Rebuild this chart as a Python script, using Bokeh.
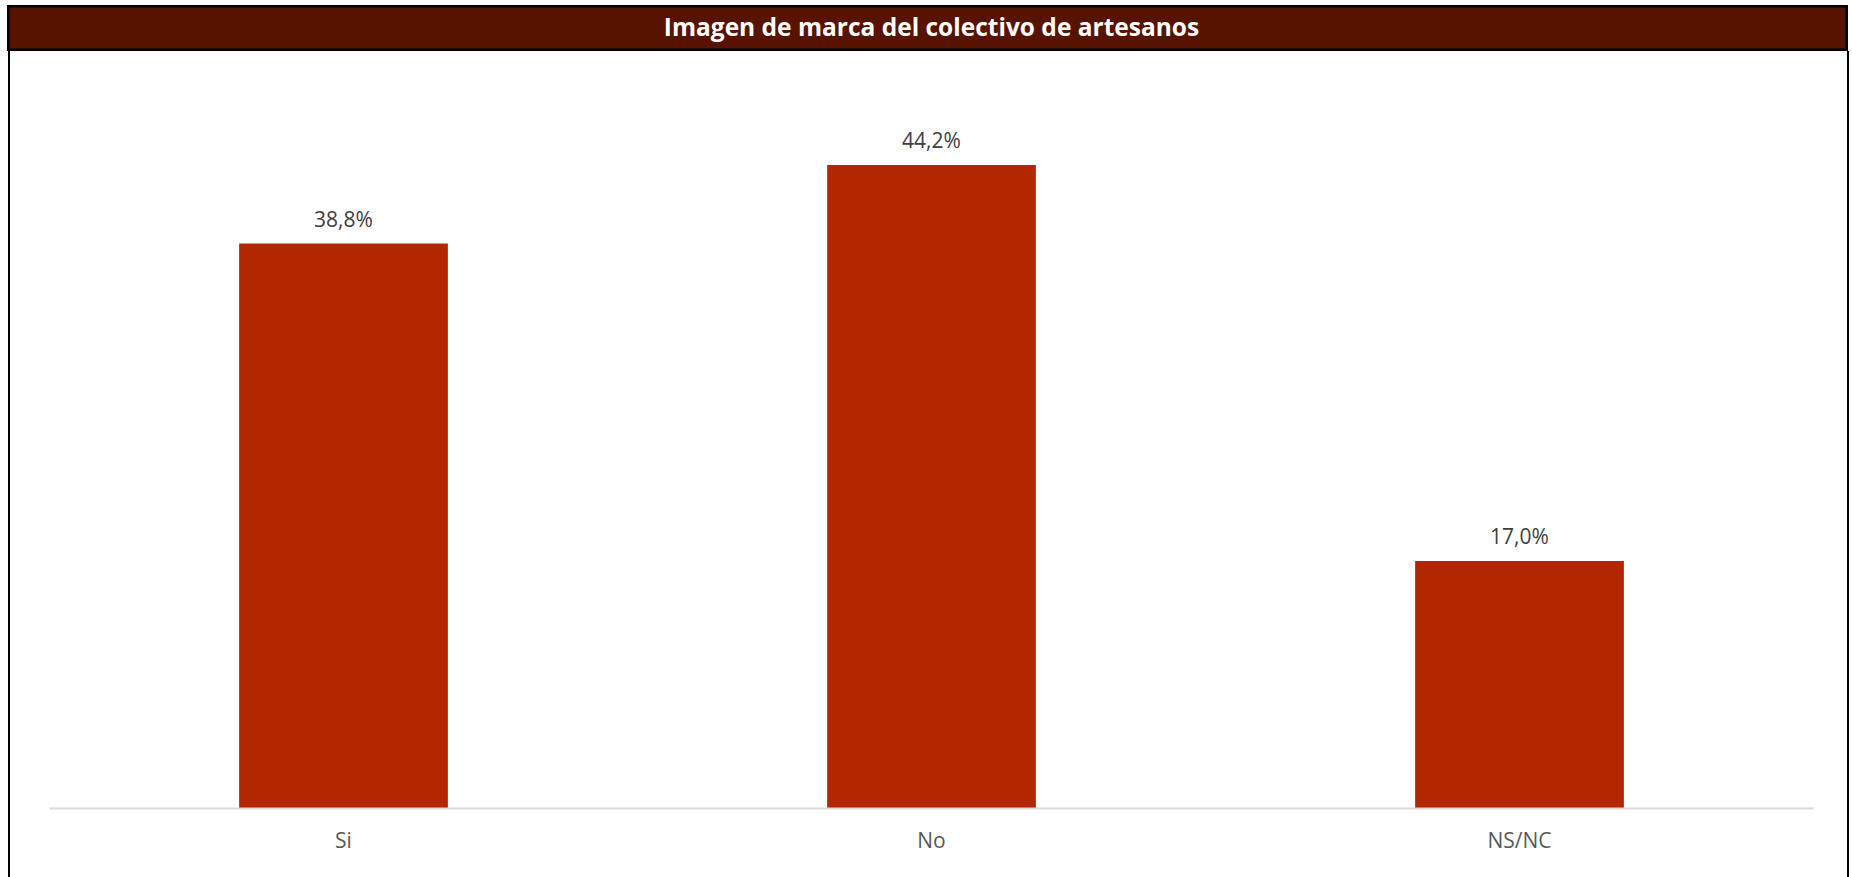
from bokeh.plotting import figure
from bokeh.models import Label, ColumnDataSource, Div
from bokeh.layouts import column, row
from bokeh.embed import file_html
from bokeh.resources import INLINE
from bokeh.core.properties import value

categories = ["Si", "No", "NS/NC"]
values = [38.8, 44.2, 17.0]
value_labels = ["38,8%", "44,2%", "17,0%"]
title_text = "Imagen de marca del colectivo de artesanos"

FONT = "Open Sans"
BAR_COLOR = "#B22600"
TITLE_BG = "#581200"

# ---------- title bar (its own small svg figure) ----------
tf = figure(width=1841, height=46, x_range=(7, 1848), y_range=(51, 5),
            x_axis_type=None, y_axis_type=None,
            output_backend="svg", toolbar_location=None,
            min_border=0, margin=(5, 0, 0, 7))
tf.background_fill_color = TITLE_BG
tf.border_fill_color = TITLE_BG
tf.outline_line_color = "black"
tf.outline_line_width = 4
tf.xgrid.visible = False
tf.ygrid.visible = False
tf.add_layout(Label(x=931, y=26, text=title_text,
                    text_align="center", text_baseline="middle",
                    text_font=FONT, text_font_style="bold",
                    text_font_size="24.5px", text_color="white"))

# ---------- main chart ----------
source = ColumnDataSource(data=dict(cat=categories, val=values, lbl=value_labels))

p = figure(x_range=categories, y_range=(0, 50), width=1837, height=826,
           output_backend="svg", toolbar_location=None,
           min_border_left=39, min_border_right=34,
           min_border_top=29, min_border_bottom=69)
p.background_fill_color = "white"
p.border_fill_color = "white"
p.outline_line_color = None
p.xgrid.visible = False
p.ygrid.visible = False
p.yaxis.visible = False

p.vbar(x="cat", top="val", width=0.355, source=source,
       fill_color=BAR_COLOR, line_color=None)

p.text(x="cat", y="val", text="lbl", source=source,
       text_align="center", text_baseline="middle", y_offset=-25,
       text_font=value(FONT), text_font_size="21px", text_color="#404040")

ax = p.xaxis[0]
ax.axis_line_color = "#d9d9d9"
ax.axis_line_width = 2
ax.major_tick_line_color = None
ax.minor_tick_line_color = None
ax.major_tick_out = 0
ax.major_tick_in = 0
ax.major_label_standoff = 17
ax.major_label_text_font = FONT
ax.major_label_text_font_size = "21px"
ax.major_label_text_color = "#595959"

left_border = Div(text="", width=2, height=826, margin=(0, 0, 0, 8),
                  styles={"background-color": "black"})
right_border = Div(text="", width=2, height=826, margin=(0, 0, 0, 0),
                   styles={"background-color": "black"})

body = row(left_border, p, right_border, spacing=0)
layout = column(tf, body, spacing=0)

open("out.html", "w").write(file_html(layout, INLINE))
